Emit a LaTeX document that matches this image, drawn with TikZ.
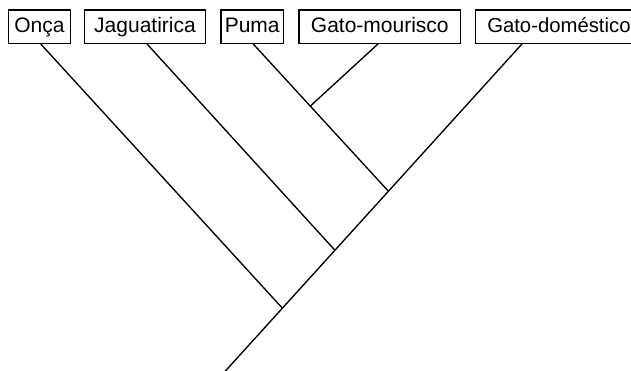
\documentclass[tikz,border=0pt]{standalone}
\usepackage{fontspec}
\setmainfont{Liberation Sans}
\begin{document}
\begin{tikzpicture}[x=1pt,y=-1pt,
  taxon/.style={draw=black,line width=1.2pt,inner sep=0pt,minimum height=33.3pt,
    text height=15pt,text depth=3.5pt,font=\fontsize{21}{25}\selectfont},
  branch/.style={line width=1.35pt,draw=black}]
\useasboundingbox (0,0) rectangle (631,370);
\clip (0,0) rectangle (631,370);
\node[taxon,minimum width=62.4pt] (onca) at (39.5,26.7) {Onça};
\node[taxon,minimum width=121pt] (jag) at (145,26.7) {Jaguatirica};
\node[taxon,minimum width=62.3pt] (puma) at (252.2,26.7) {Puma};
\node[taxon,minimum width=161.7pt] (mour) at (379.8,26.7) {Gato-mourisco};
\node[taxon,minimum width=166.4pt,font=\fontsize{20.3}{24}\selectfont] (dom) at (558.9,26.7) {Gato-doméstico};
\coordinate (root) at (224.5,372);
\coordinate (j1) at (282.2,308);
\coordinate (j2) at (334.7,250);
\coordinate (j3) at (388.2,191);
\coordinate (j4) at (310.4,106);
\draw[branch] ([xshift=1.2pt]onca.south) -- (j1);
\draw[branch] ([xshift=2pt]jag.south) -- (j2);
\draw[branch] ([xshift=1pt]puma.south) -- (j3);
\draw[branch] ([xshift=-1.8pt]mour.south) -- (j4);
\draw[branch] ([xshift=-36.9pt]dom.south) -- (root);
\end{tikzpicture}
\end{document}
